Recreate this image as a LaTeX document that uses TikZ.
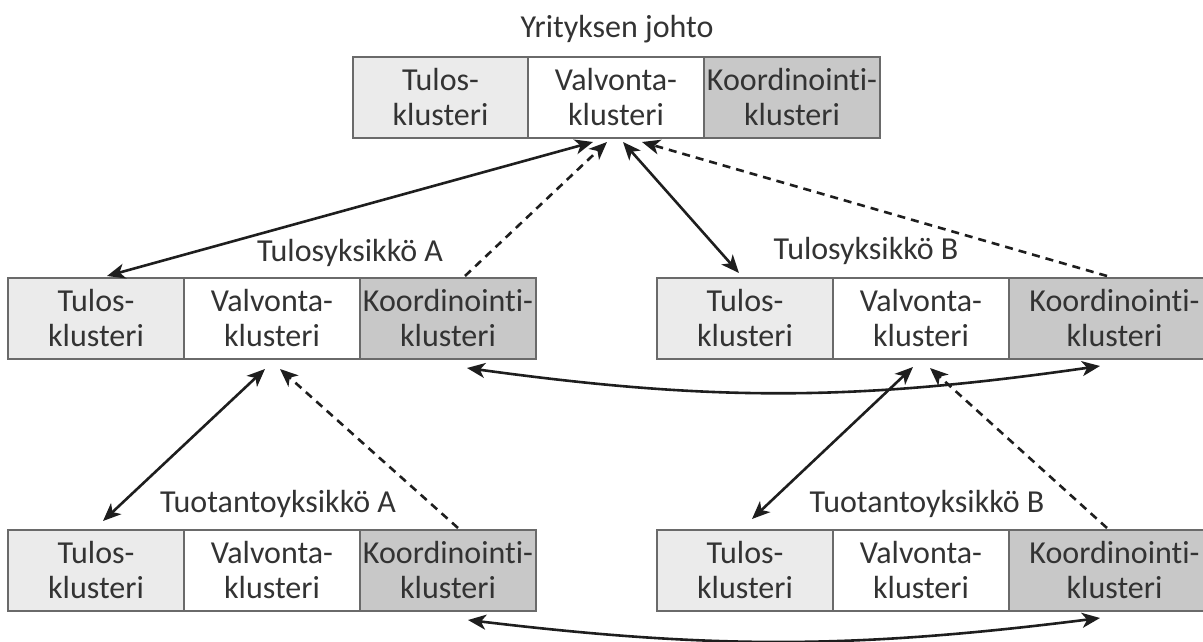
\documentclass[tikz,border=0pt]{standalone}
\usepackage{fontspec}
\setmainfont{Carlito}[Ligatures=NoCommon]
\usetikzlibrary{arrows.meta}
\definecolor{tulosfill}{HTML}{EBEBEB}
\definecolor{koordfill}{HTML}{C8C8C8}
\definecolor{edgegray}{HTML}{6A6A6A}
\definecolor{inkgray}{HTML}{333333}
\definecolor{arrowink}{HTML}{1E1E1E}
\begin{document}
\begin{tikzpicture}[x=1pt,y=1pt,
  cell/.style={draw=edgegray, line width=2pt, minimum height=81pt, minimum width=176pt,
    inner sep=0pt, align=center, font=\fontsize{32}{35}\selectfont, text=inkgray},
  tulos/.style={cell, fill=tulosfill},
  valvonta/.style={cell, fill=white},
  koord/.style={cell, fill=koordfill},
  unitlabel/.style={font=\fontsize{32}{35}\selectfont, text=inkgray, anchor=base, inner sep=0pt},
  link/.style={draw=arrowink, line width=2.6pt, >={Stealth[length=18pt,width=15pt,inset=5pt]}},
  twoway/.style={link, <->},
  report/.style={link, dash pattern=on 8pt off 6pt, ->},
]
\useasboundingbox (0,0) rectangle (1203,641);
\clip (0,0) rectangle (1203,641);

% company management
\node[tulos]    (tT) at (440.5,543.5) {Tulos-\\klusteri};
\node[valvonta] (tV) at (616,543.5)   {Valvonta-\\klusteri};
\node[koord]    (tK) at (792,543.5)   {Koordinointi-\\klusteri};
\node[unitlabel] (lblTop) at (617,603) {Yrityksen johto};

% profit unit A
\node[tulos]    (mlT) at (96,322.5)  {Tulos-\\klusteri};
\node[valvonta] (mlV) at (272,322.5) {Valvonta-\\klusteri};
\node[koord]    (mlK) at (448,322.5) {Koordinointi-\\klusteri};
\node[unitlabel] (lblTA) at (350,379) {Tulosyksikkö A};

% profit unit B
\node[tulos]    (mrT) at (745,322.5)    {Tulos-\\klusteri};
\node[valvonta] (mrV) at (921,322.5)    {Valvonta-\\klusteri};
\node[koord, minimum width=211pt] (mrK) at (1114.5,322.5) {Koordinointi-\\klusteri};
\node[unitlabel] (lblTB) at (866,381) {Tulosyksikkö B};

% production unit A
\node[tulos]    (blT) at (96,70.5)  {Tulos-\\klusteri};
\node[valvonta] (blV) at (272,70.5) {Valvonta-\\klusteri};
\node[koord]    (blK) at (448,70.5) {Koordinointi-\\klusteri};
\node[unitlabel] (lblPA) at (278,129) {Tuotantoyksikkö A};

% production unit B
\node[tulos]    (brT) at (745,70.5)    {Tulos-\\klusteri};
\node[valvonta] (brV) at (921,70.5)    {Valvonta-\\klusteri};
\node[koord, minimum width=211pt] (brK) at (1114.5,70.5) {Koordinointi-\\klusteri};
\node[unitlabel] (lblPB) at (927,129) {Tuotantoyksikkö B};

% links to management
\draw[twoway] ([xshift=-23pt,yshift=-3pt]tV.south) -- ([xshift=11pt,yshift=1pt]mlT.north);
\draw[report] ([xshift=17pt,yshift=1pt]mlK.north) -- ([xshift=-9pt,yshift=-3pt]tV.south);
\draw[twoway] ([xshift=7pt,yshift=-3pt]tV.south) -- ([xshift=-6pt,yshift=4pt]mrT.north);
\draw[report] ([xshift=-7.5pt,yshift=1pt]mrK.north) -- ([xshift=26pt,yshift=-3pt]tV.south);

% links from production units to profit units
\draw[twoway] ([xshift=-7pt,yshift=-9pt]mlV.south) -- ([xshift=7pt,yshift=8pt]blT.north);
\draw[report] ([xshift=10pt,yshift=1pt]blK.north) -- ([xshift=8pt,yshift=-9pt]mlV.south);
\draw[twoway] ([xshift=-8pt,yshift=-7pt]mrV.south) -- ([xshift=7pt,yshift=10pt]brT.north);
\draw[report] ([xshift=-7.5pt,yshift=1pt]brK.north) -- ([xshift=9pt,yshift=-8pt]mrV.south);

% coordination between sibling units
\draw[twoway] ([xshift=19pt,yshift=-8pt]mlK.south) to[bend right=8] ([xshift=-14.5pt,yshift=-6pt]mrK.south);
\draw[twoway] ([xshift=20pt,yshift=-8pt]blK.south) to[bend right=7] ([xshift=-14.5pt,yshift=-6pt]brK.south);
\end{tikzpicture}
\end{document}
